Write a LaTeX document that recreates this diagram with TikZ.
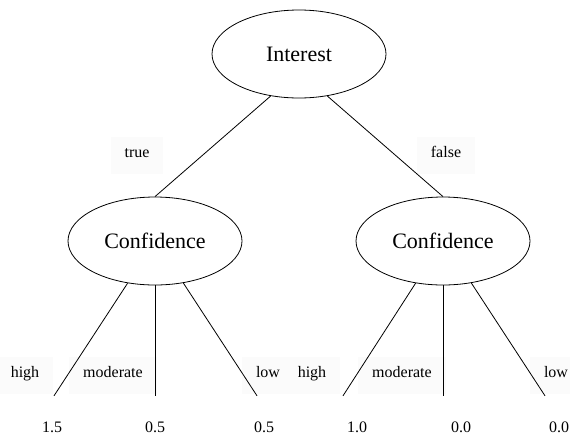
\documentclass[tikz,border=0pt]{standalone}
\usepackage{fontspec}
\setmainfont{Liberation Serif}
\usetikzlibrary{shapes.geometric}

\begin{document}
\begin{tikzpicture}[
    x=1pt, y=-1pt,
    attr/.style={
      draw,
      ellipse,
      line width=0.8pt,
      minimum width=174pt,
      minimum height=88pt,
      inner sep=0pt,
      font=\fontsize{22}{24}\selectfont
    },
    branch/.style={
      fill=black!1.5,
      inner xsep=14pt,
      minimum height=37pt,
      text height=0.7em,
      text depth=0.25em,
      font=\fontsize{16}{18}\selectfont
    },
    leaf/.style={
      minimum width=40pt,
      minimum height=66pt,
      text height=0.7em,
      text depth=0em,
      font=\fontsize{16}{18}\selectfont
    },
    link/.style={draw, line width=0.8pt}
  ]
    \useasboundingbox (0,0) rectangle (570,437);

    \node[attr] (interest) at (299,54) {Interest};
    \node[attr] (confT) at (155,241) {Confidence};
    \node[attr] (confF) at (443,241) {Confidence};

    % leaves
    \node[leaf] (hT) at (52,429) {1.5};
    \node[leaf] (mT) at (155,429) {0.5};
    \node[leaf] (lT) at (264,429) {0.5};
    \node[leaf] (hF) at (357,429) {1.0};
    \node[leaf] (mF) at (461,429) {0.0};
    \node[leaf] (lF) at (559,429) {0.0};

    % edge labels
    \node[branch] (lbTrue) at (137,155) {true};
    \node[branch] (lbFalse) at (446,155) {false};
    \node[branch] (lbHT) at (25,375) {high};
    \node[branch] (lbMT) at (113,375) {moderate};
    \node[branch] (lbLT) at (268,375) {low};
    \node[branch] (lbHF) at (312,375) {high};
    \node[branch] (lbMF) at (402,375) {moderate};
    \node[branch] (lbLF) at (556,375) {low};

    \draw[link] (interest.236) -- (confT.north);
    \draw[link] (interest.304) -- (confF.north);

    \draw[link] (confT.237) -- ([xshift=2pt]hT.north);
    \draw[link] (confT.south) -- (mT.north);
    \draw[link] (confT.304) -- ([xshift=-7pt]lT.north);
    \draw[link] (confF.237) -- ([xshift=-14pt]hF.north);
    \draw[link] (confF.south) -- ([xshift=-18pt]mF.north);
    \draw[link] (confF.304) -- ([xshift=-14pt]lF.north);
  \end{tikzpicture}
\end{document}
